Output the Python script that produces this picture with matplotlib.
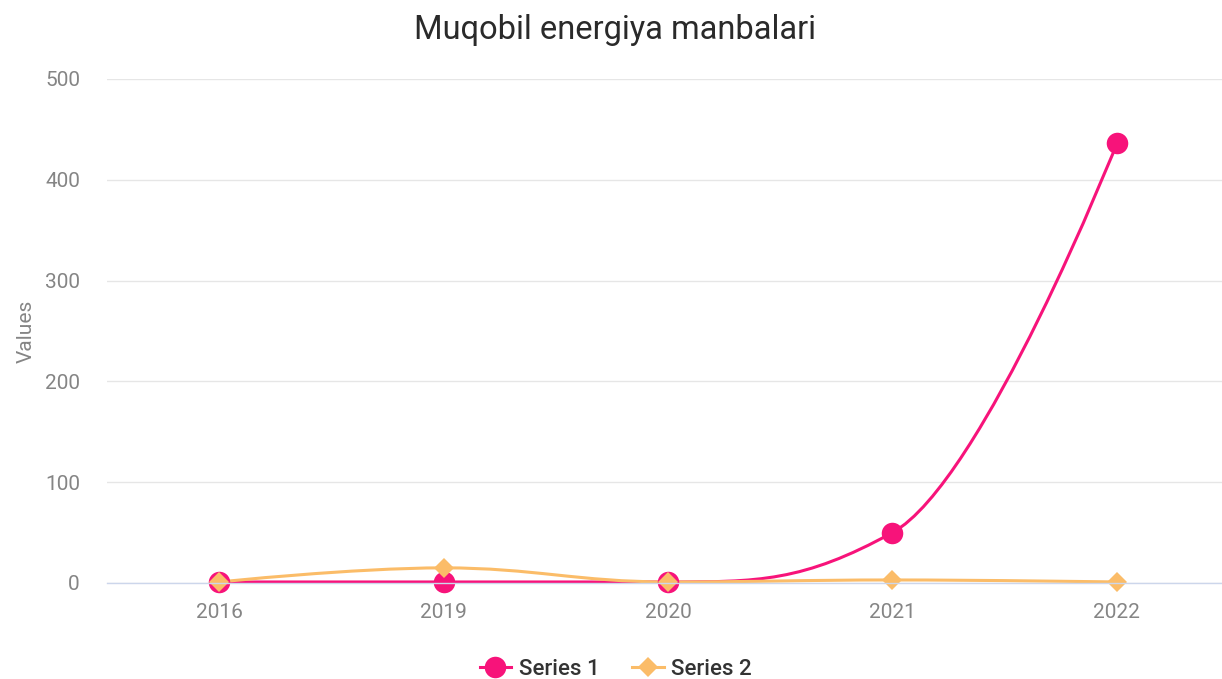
import numpy as np
import matplotlib
matplotlib.use("Agg")
import matplotlib.pyplot as plt
from matplotlib.path import Path
from matplotlib.patches import PathPatch
from matplotlib.lines import Line2D

# data
years = ["2016", "2019", "2020", "2021", "2022"]
series_1 = [1, 1, 1, 50, 436]
series_2 = [1, 15, 1, 3, 1]

title = "Muqobil energiya manbalari"
y_label = "Values"
y_ticks = [0, 100, 200, 300, 400, 500]

pink = "#f7137a"
orange = "#fbbc68"

plt.rcParams["font.family"] = ["Roboto", "DejaVu Sans"]


def spline_path(xs, ys, smoothing=1.5):
    # cubic bezier spline in the same manner as highcharts "spline" series
    denom = smoothing + 1
    n = len(xs)
    right_cont = [None] * n
    verts = [(xs[0], ys[0])]
    codes = [Path.MOVETO]
    for i in range(1, n):
        px, py = xs[i], ys[i]
        lx, ly = xs[i - 1], ys[i - 1]
        left_x, left_y = px, py
        if i < n - 1:
            nx, ny = xs[i + 1], ys[i + 1]
            left_x = (smoothing * px + lx) / denom
            left_y = (smoothing * py + ly) / denom
            right_x = (smoothing * px + nx) / denom
            right_y = (smoothing * py + ny) / denom
            corr = 0
            if right_x != left_x:
                corr = (right_y - left_y) * (right_x - px) / (right_x - left_x) + py - right_y
            left_y += corr
            right_y += corr
            if left_y > ly and left_y > py:
                left_y = max(ly, py)
                right_y = 2 * py - left_y
            elif left_y < ly and left_y < py:
                left_y = min(ly, py)
                right_y = 2 * py - left_y
            if right_y > ny and right_y > py:
                right_y = max(ny, py)
                left_y = 2 * py - right_y
            elif right_y < ny and right_y < py:
                right_y = min(ny, py)
                left_y = 2 * py - right_y
            right_cont[i] = (right_x, right_y)
        prev = right_cont[i - 1] if right_cont[i - 1] is not None else (lx, ly)
        verts += [prev, (left_x, left_y), (px, py)]
        codes += [Path.CURVE4] * 3
    return Path(verts, codes)


fig = plt.figure(figsize=(12.22, 6.79), dpi=100)
ax = fig.add_axes([0.0876, 0.1414, 0.9182, 0.7423])

x = np.arange(len(years))

for vals, color, marker, ms in [(series_1, pink, "o", 15.5), (series_2, orange, "D", 10.5)]:
    patch = PathPatch(spline_path(x, vals), facecolor="none", edgecolor=color,
                      linewidth=2.2, capstyle="round", joinstyle="round", clip_on=False)
    ax.add_patch(patch)
    ax.plot(x, vals, linestyle="none", marker=marker, markersize=ms,
            color=color, markeredgewidth=0, clip_on=False)

ax.set_xlim(-0.5, len(years) - 0.5)
ax.set_ylim(0, 500)
ax.set_xticks(x)
ax.set_xticklabels(years)
ax.set_yticks(y_ticks)
ax.tick_params(length=0, labelsize=15, labelcolor="#858585")
ax.tick_params(axis="x", pad=14.5)
ax.tick_params(axis="y", pad=19.5)

ax.grid(True, axis="y", color="#e6e6e6", linewidth=1.0)
ax.set_axisbelow(True)
for side in ["top", "right", "left"]:
    ax.spines[side].set_visible(False)
ax.spines["bottom"].set_color("#ccd6eb")
ax.spines["bottom"].set_linewidth(1.0)

ax.set_ylabel(y_label, fontsize=15, color="#858585", labelpad=7)
fig.text(0.503, 0.956, title, ha="center", va="center", fontsize=23.5, color="#2a2a2a")

handles = [
    Line2D([], [], color=pink, linewidth=2.2, marker="o", markersize=15.5, markeredgewidth=0),
    Line2D([], [], color=orange, linewidth=2.2, marker="D", markersize=10.5, markeredgewidth=0),
]
fig.legend(handles, ["Series 1", "Series 2"], loc="center", bbox_to_anchor=(0.504, 0.014),
           ncol=2, frameon=False, handlelength=1.4, columnspacing=1.5, handletextpad=0.35,
           prop={"size": 16, "weight": "medium"}, labelcolor="#333333")

fig.savefig("out.png", dpi=100)
